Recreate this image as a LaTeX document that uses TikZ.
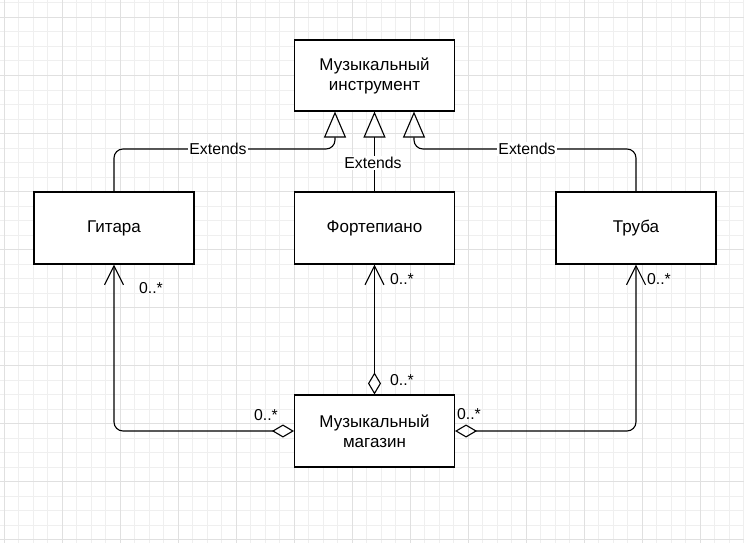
\documentclass[tikz,border=0pt]{standalone}
\usepackage{fontspec}
\setmainfont{Liberation Sans}
\usetikzlibrary{arrows.meta}
\definecolor{gridminor}{HTML}{EFEFEF}
\definecolor{gridmajor}{HTML}{E0E0E0}
\tikzset{
  cls/.style={draw=black, line width=1.1pt, fill=white, rectangle, align=center, inner sep=0pt, font=\fontsize{17}{20}\selectfont},
  ext/.style={line width=1.1pt, rounded corners=9pt, -{Triangle[open,length=26pt,width=22pt,line width=1.1pt]}},
  agg/.style={line width=1.1pt, rounded corners=9pt, {Diamond[open,length=22pt,width=13pt,line width=1.1pt]}-{Straight Barb[length=19pt,width=19pt,line width=1.1pt]}},
  lbl/.style={fill=white, inner sep=1pt, font=\fontsize{15.8}{18}\selectfont},
  mult/.style={inner sep=0pt, font=\fontsize{15.8}{18}\selectfont},
}
\begin{document}
\begin{tikzpicture}[x=1pt,y=-1pt]
\useasboundingbox (0,0) rectangle (744,543);
\fill[white] (0,0) rectangle (744,543);
% grid
\foreach \i in {0,...,51} {
  \draw[gridminor, line width=0.6pt] ({4+14.5*\i},0) -- ({4+14.5*\i},543);
}
\foreach \i in {-1,...,37} {
  \draw[gridminor, line width=0.6pt] (0,{17.3+14.5*\i}) -- (744,{17.3+14.5*\i});
}
\foreach \i in {0,...,12} {
  \draw[gridmajor, line width=0.8pt] ({4+58*\i},0) -- ({4+58*\i},543);
}
\foreach \i in {0,...,9} {
  \draw[gridmajor, line width=0.8pt] (0,{17.3+58*\i}) -- (744,{17.3+58*\i});
}
% classes
\node[cls, minimum width=160pt, minimum height=71pt] (inst) at (374.5,75.5) {Музыкальный\\инструмент};
\node[cls, minimum width=160pt, minimum height=72pt] (git) at (114,228) {Гитара};
\node[cls, minimum width=160pt, minimum height=72pt] (fort) at (374.5,228) {Фортепиано};
\node[cls, minimum width=160pt, minimum height=72pt] (tru) at (636,228) {Труба};
\node[cls, minimum width=160pt, minimum height=72pt] (mag) at (374.5,431) {Музыкальный\\магазин};
% generalization
\coordinate (t1) at ([xshift=-39.5pt]inst.south);
\coordinate (t3) at ([xshift=39.5pt]inst.south);
\draw[ext] (git.north) |- (t1 |- 0,149) -- (t1);
\draw[ext] (fort.north) -- (inst.south);
\draw[ext] (tru.north) |- (t3 |- 0,149) -- (t3);
\node[lbl] (e1) at (218,149) {Extends};
\node[lbl] (e2) at (373,163) {Extends};
\node[lbl] (e3) at (527,149) {Extends};
% aggregations
\draw[agg] (mag.west) -| (git.south);
\draw[agg] (mag.north) -- (fort.south);
\draw[agg] (mag.east) -| (tru.south);
\node[mult] (m1) at (151,288) {0..*};
\node[mult] (m2) at (266,415) {0..*};
\node[mult] (m3) at (402,279) {0..*};
\node[mult] (m4) at (402,380) {0..*};
\node[mult] (m5) at (659,279) {0..*};
\node[mult] (m6) at (469,414) {0..*};
\end{tikzpicture}
\end{document}
